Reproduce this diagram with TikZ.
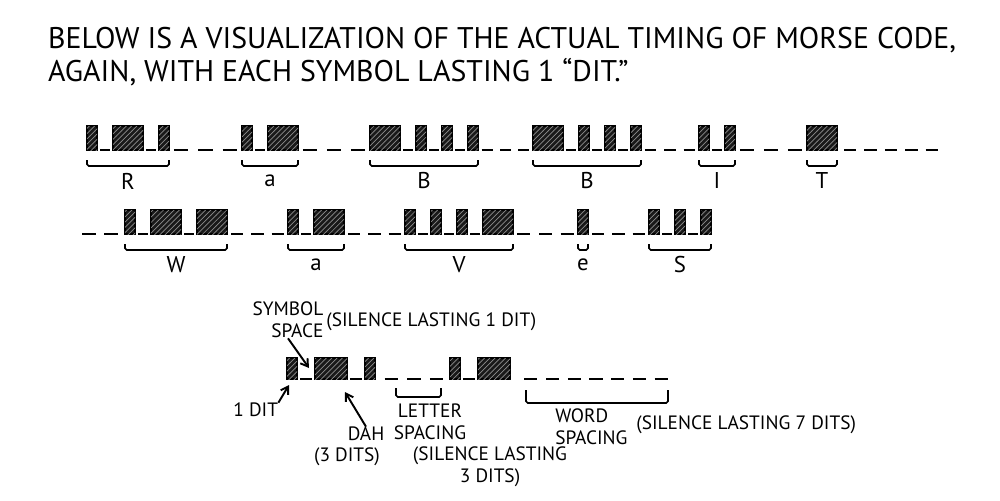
\documentclass[tikz,border=0pt]{standalone}
\usepackage{fontspec}
\setmainfont{PT Sans}
\usetikzlibrary{arrows.meta,calc,patterns}
\newcommand{\ditw}{10}
\newcommand{\dahw}{30}
\newcommand{\symgap}{16}
\newcommand{\boxh}{24}
% boxes of one letter (0 = dit, 1 = dah); right end kept in \mx
\newcommand{\msymbols}[3]{\xdef\mx{#1}
  \foreach \s [count=\k] in {#3} {
    \ifnum\k>1 \draw[symdash] (\mx-\symgap+3,#2) -- (\mx-3,#2); \fi
    \pgfmathsetmacro\mw{\s==1 ? \dahw : \ditw}
    \draw[mbox] (\mx,#2) rectangle ++(\mw,-\boxh);
    \pgfmathsetmacro\mnx{\mx+\mw+\symgap}\xdef\mx{\mnx}}
  \pgfmathsetmacro\mxe{\mx-\symgap}\xdef\mx{\mxe}}
% letter with brace and label: name, x, baseline, code, label
\newcommand{\mletter}[5]{\msymbols{#2}{#3}{#4}
  \draw[brace] (#2,#3+10) -- (#2,#3+16) -- (\mx,#3+16) -- (\mx,#3+10);
  \node[letterlbl] (#1) at ({(#2+\mx)/2},#3+31) {#5};}
% silence: n dashes between two x values
\newcommand{\silence}[4]{\pgfmathsetmacro\dstep{(#2-#1)/#4}
  \foreach \i in {1,...,#4}
    \draw[symdash] ({#1+(\i-0.8)*\dstep},#3) -- ++(0.6*\dstep,0);}

\begin{document}
\begin{tikzpicture}[x=0.02cm,y=-0.02cm,
  mbox/.style={draw,line width=1pt,fill=black!90,postaction={pattern=north east lines,pattern color=white!55!black}},
  symdash/.style={line width=1.3pt},
  brace/.style={line width=0.9pt,rounded corners=1pt},
  letterlbl/.style={font=\fontsize{13}{15}\selectfont},
  note/.style={font=\fontsize{11}{12.5}\selectfont,inner sep=0pt},
  pointer/.style={-{Straight Barb[length=4pt,width=5pt]},line width=1.1pt}]
\useasboundingbox (0,0) rectangle (1000,500);
\node[anchor=west,font=\fontsize{17}{20}\selectfont] (title1) at (42,40)
  {BELOW IS A VISUALIZATION OF THE ACTUAL TIMING OF MORSE CODE,};
\node[anchor=west,font=\fontsize{17}{20}\selectfont] (title2) at (42,72)
  {AGAIN, WITH EACH SYMBOL LASTING 1 ``DIT.''};
% first row
\mletter{r}{87}{150}{0,1,0}{R}
\silence{169}{242}{150}{3}
\mletter{a1}{242}{150}{0,1}{a}
\silence{298}{370}{150}{3}
\mletter{b1}{370}{150}{1,0,0,0}{B}
\silence{478}{533}{150}{3}
\mletter{b2}{533}{150}{1,0,0,0}{B}
\silence{641}{699}{150}{3}
\mletter{i}{699}{150}{0,0}{I}
\silence{735}{807}{150}{3}
\mletter{t}{807}{150}{1}{T}
\silence{840}{942}{150}{5}
% second row
\silence{78}{122}{234}{2}
\mletter{w}{125}{234}{0,1,1}{W}
\silence{227}{288}{234}{3}
\mletter{a2}{288}{234}{0,1}{a}
\silence{344}{405}{234}{3}
\mletter{v}{405}{234}{0,0,0,1}{V}
\silence{513}{578}{234}{3}
\mletter{e}{578}{234}{0}{e}
\silence{588}{649}{234}{3}
\mletter{s}{649}{234}{0,0,0}{S}
% legend
\renewcommand{\boxh}{21}\renewcommand{\symgap}{18}\renewcommand{\dahw}{32}
\msymbols{287}{379}{0,1,0}
\silence{380}{448}{379}{3}
\msymbols{450}{379}{0,1}
\silence{520}{672}{379}{7}
\draw[brace] (396,388) -- (396,397) -- (441,397) -- (441,388);
\draw[brace] (526,390) -- (526,403) -- (668,403) -- (668,390);
\coordinate (dit1) at (289,385);
\coordinate (symsp) at (309,368);
\coordinate (dahbox) at (345,392);
\node[note,align=right] (sym) at (288,320) {SYMBOL\\SPACE};
\node[note,anchor=west] (symlen) at (326,322) {(SILENCE LASTING 1 DIT)};
\draw[pointer] (sym.south) -- (symsp);
\node[note,anchor=west] (onedit) at (233,410) {1 DIT};
\draw[pointer] (onedit.north east) -- (dit1);
\node[note] (dah) at (366,434) {DAH};
\node[note] (dahlen) at (347,457) {(3 DITS)};
\draw[pointer] (dah.north) -- (dahbox);
\node[note,align=center] (letsp) at (430,422) {LETTER\\SPACING};
\node[note,align=center] (letlen) at (490,467) {(SILENCE LASTING\\3 DITS)};
\node[note,align=left,anchor=west] (wordsp) at (555,427) {WORD\\SPACING};
\node[note,anchor=west] (wordlen) at (636,425) {(SILENCE LASTING 7 DITS)};
\end{tikzpicture}
\end{document}
